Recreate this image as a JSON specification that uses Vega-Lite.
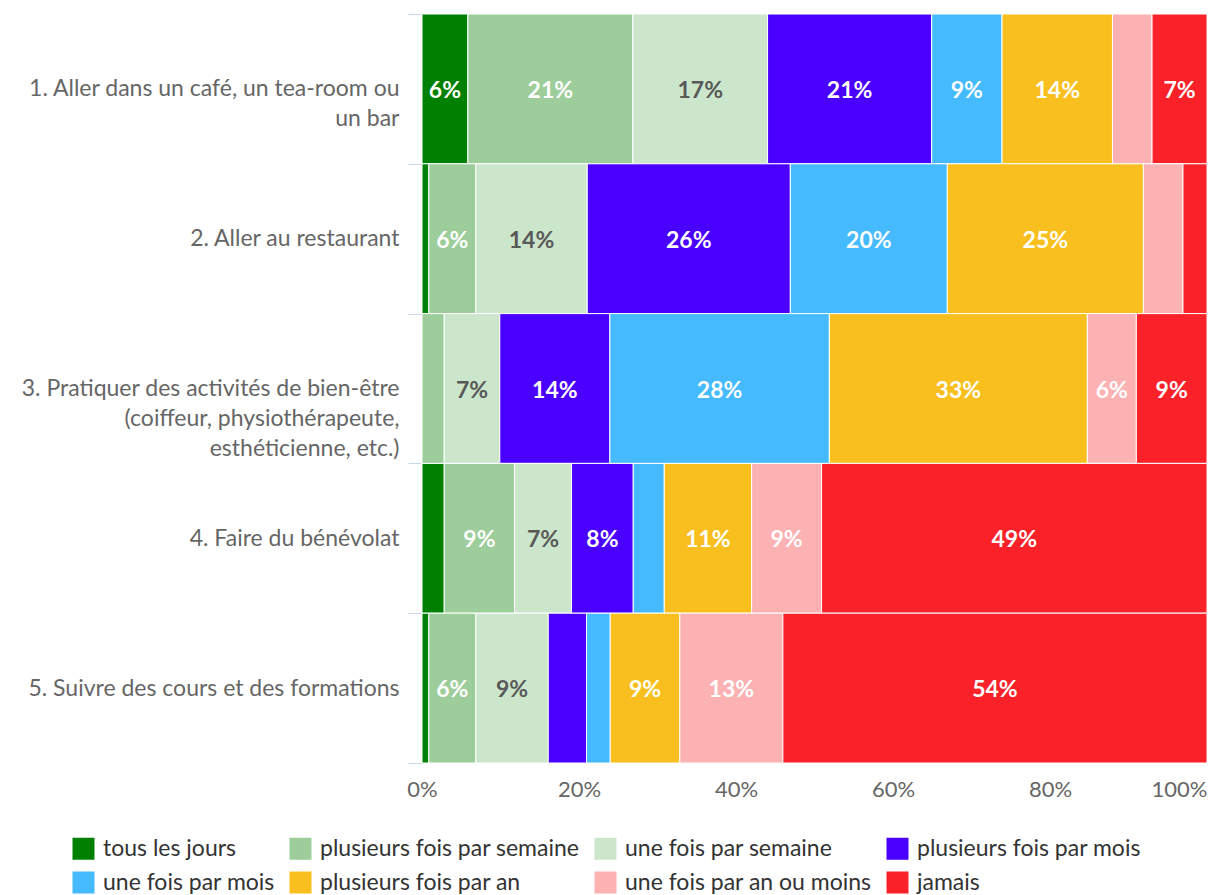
{
  "$schema": "https://vega.github.io/schema/vega-lite/v6.json",
  "width": 785,
  "height": 749,
  "autosize": {"type": "none"},
  "padding": {"left": 422, "top": 14, "right": 3, "bottom": 132},
  "background": "white",
  "config": {
    "font": "Lato",
    "view": {"stroke": null}
  },
  "data": {
    "values": [
      {"item": "1. Aller dans un café, un tea-room ou|un bar", "freq": "tous les jours", "ordre": 1, "value": 0.0584},
      {"item": "1. Aller dans un café, un tea-room ou|un bar", "freq": "plusieurs fois par semaine", "ordre": 2, "value": 0.2102},
      {"item": "1. Aller dans un café, un tea-room ou|un bar", "freq": "une fois par semaine", "ordre": 3, "value": 0.1716},
      {"item": "1. Aller dans un café, un tea-room ou|un bar", "freq": "plusieurs fois par mois", "ordre": 4, "value": 0.209},
      {"item": "1. Aller dans un café, un tea-room ou|un bar", "freq": "une fois par mois", "ordre": 5, "value": 0.0896},
      {"item": "1. Aller dans un café, un tea-room ou|un bar", "freq": "plusieurs fois par an", "ordre": 6, "value": 0.1407},
      {"item": "1. Aller dans un café, un tea-room ou|un bar", "freq": "une fois par an ou moins", "ordre": 7, "value": 0.0504},
      {"item": "1. Aller dans un café, un tea-room ou|un bar", "freq": "jamais", "ordre": 8, "value": 0.070},
      {"item": "2. Aller au restaurant", "freq": "tous les jours", "ordre": 1, "value": 0.0087},
      {"item": "2. Aller au restaurant", "freq": "plusieurs fois par semaine", "ordre": 2, "value": 0.0599},
      {"item": "2. Aller au restaurant", "freq": "une fois par semaine", "ordre": 3, "value": 0.1419},
      {"item": "2. Aller au restaurant", "freq": "plusieurs fois par mois", "ordre": 4, "value": 0.2587},
      {"item": "2. Aller au restaurant", "freq": "une fois par mois", "ordre": 5, "value": 0.200},
      {"item": "2. Aller au restaurant", "freq": "plusieurs fois par an", "ordre": 6, "value": 0.2498},
      {"item": "2. Aller au restaurant", "freq": "une fois par an ou moins", "ordre": 7, "value": 0.0504},
      {"item": "2. Aller au restaurant", "freq": "jamais", "ordre": 8, "value": 0.0306},
      {"item": "3. Pratiquer des activités de bien-être|(coiffeur, physiothérapeute,|esthéticienne, etc.)", "freq": "tous les jours", "ordre": 1, "value": 0.0},
      {"item": "3. Pratiquer des activités de bien-être|(coiffeur, physiothérapeute,|esthéticienne, etc.)", "freq": "plusieurs fois par semaine", "ordre": 2, "value": 0.0283},
      {"item": "3. Pratiquer des activités de bien-être|(coiffeur, physiothérapeute,|esthéticienne, etc.)", "freq": "une fois par semaine", "ordre": 3, "value": 0.0708},
      {"item": "3. Pratiquer des activités de bien-être|(coiffeur, physiothérapeute,|esthéticienne, etc.)", "freq": "plusieurs fois par mois", "ordre": 4, "value": 0.1402},
      {"item": "3. Pratiquer des activités de bien-être|(coiffeur, physiothérapeute,|esthéticienne, etc.)", "freq": "une fois par mois", "ordre": 5, "value": 0.2796},
      {"item": "3. Pratiquer des activités de bien-être|(coiffeur, physiothérapeute,|esthéticienne, etc.)", "freq": "plusieurs fois par an", "ordre": 6, "value": 0.3287},
      {"item": "3. Pratiquer des activités de bien-être|(coiffeur, physiothérapeute,|esthéticienne, etc.)", "freq": "une fois par an ou moins", "ordre": 7, "value": 0.0624},
      {"item": "3. Pratiquer des activités de bien-être|(coiffeur, physiothérapeute,|esthéticienne, etc.)", "freq": "jamais", "ordre": 8, "value": 0.090},
      {"item": "4. Faire du bénévolat", "freq": "tous les jours", "ordre": 1, "value": 0.0283},
      {"item": "4. Faire du bénévolat", "freq": "plusieurs fois par semaine", "ordre": 2, "value": 0.0896},
      {"item": "4. Faire du bénévolat", "freq": "une fois par semaine", "ordre": 3, "value": 0.0726},
      {"item": "4. Faire du bénévolat", "freq": "plusieurs fois par mois", "ordre": 4, "value": 0.0786},
      {"item": "4. Faire du bénévolat", "freq": "une fois par mois", "ordre": 5, "value": 0.0395},
      {"item": "4. Faire du bénévolat", "freq": "plusieurs fois par an", "ordre": 6, "value": 0.1113},
      {"item": "4. Faire du bénévolat", "freq": "une fois par an ou moins", "ordre": 7, "value": 0.0891},
      {"item": "4. Faire du bénévolat", "freq": "jamais", "ordre": 8, "value": 0.491},
      {"item": "5. Suivre des cours et des formations", "freq": "tous les jours", "ordre": 1, "value": 0.0087},
      {"item": "5. Suivre des cours et des formations", "freq": "plusieurs fois par semaine", "ordre": 2, "value": 0.0599},
      {"item": "5. Suivre des cours et des formations", "freq": "une fois par semaine", "ordre": 3, "value": 0.0922},
      {"item": "5. Suivre des cours et des formations", "freq": "plusieurs fois par mois", "ordre": 4, "value": 0.0488},
      {"item": "5. Suivre des cours et des formations", "freq": "une fois par mois", "ordre": 5, "value": 0.0302},
      {"item": "5. Suivre des cours et des formations", "freq": "plusieurs fois par an", "ordre": 6, "value": 0.0887},
      {"item": "5. Suivre des cours et des formations", "freq": "une fois par an ou moins", "ordre": 7, "value": 0.1312},
      {"item": "5. Suivre des cours et des formations", "freq": "jamais", "ordre": 8, "value": 0.5403}
    ]
  },
  "encoding": {
    "y": {
      "field": "item",
      "type": "nominal",
      "sort": null,
      "scale": {"paddingInner": 0, "paddingOuter": 0},
      "axis": {
        "title": null,
        "labelExpr": "split(datum.label, '|')",
        "labelFontSize": 23,
        "labelColor": "#666666",
        "labelLineHeight": 30,
        "labelLimit": 500,
        "labelPadding": 9,
        "tickBand": "extent",
        "tickSize": 14,
        "tickColor": "#ccd6eb",
        "domainColor": "#ccd6eb",
        "grid": false,
        "encode": {
          "labels": {
            "update": {
              "dy": {"signal": "indexof(datum.value, 'Pratiquer') >= 0 ? -30 : (indexof(datum.value, 'café') >= 0 ? -15 : 0)"}
            }
          }
        }
      }
    }
  },
  "layer": [
    {
      "mark": {"type": "bar", "stroke": "white", "strokeWidth": 1},
      "encoding": {
        "x": {
          "field": "value",
          "type": "quantitative",
          "stack": "normalize",
          "scale": {"domain": [0, 1], "nice": false},
          "axis": {
            "title": null,
            "format": ".0%",
            "values": [0, 0.2, 0.4, 0.6, 0.8, 1],
            "grid": false,
            "domain": false,
            "ticks": false,
            "tickSize": 0,
            "labelFontSize": 22,
            "labelColor": "#666666",
            "labelPadding": 16,
            "labelAlign": {"condition": {"test": "datum.value >= 1", "value": "right"}, "value": "center"}
          }
        },
        "color": {
          "field": "freq",
          "type": "nominal",
          "scale": {
            "domain": ["tous les jours", "plusieurs fois par semaine", "une fois par semaine", "plusieurs fois par mois", "une fois par mois", "plusieurs fois par an", "une fois par an ou moins", "jamais"],
            "range": ["#008000", "#9ccd9a", "#cce6cc", "#4a00ff", "#45baff", "#f9bf1e", "#fcb1b2", "#fa2128"]
          },
          "legend": {
            "title": null,
            "orient": "none",
            "legendX": -350,
            "legendY": 823,
            "direction": "horizontal",
            "columns": 4,
            "symbolType": "square",
            "symbolSize": 484,
            "symbolStrokeWidth": 0,
            "labelFontSize": 23,
            "labelColor": "#333333",
            "labelOffset": 8,
            "labelLimit": 400,
            "columnPadding": 14,
            "rowPadding": 10
          }
        },
        "order": {"field": "ordre", "type": "quantitative"}
      }
    },
    {
      "mark": {"type": "text", "fontSize": 23, "fontWeight": "bold", "align": "center", "baseline": "middle", "dy": 2},
      "encoding": {
        "x": {"field": "value", "type": "quantitative", "stack": "normalize", "bandPosition": 0.5},
        "order": {"field": "ordre", "type": "quantitative"},
        "text": {"condition": {"test": "datum.value < 0.055", "value": ""}, "field": "value", "type": "quantitative", "format": ".0%"},
        "color": {"condition": {"test": "datum.freq === 'une fois par semaine'", "value": "#595959"}, "value": "white"}
      }
    }
  ]
}
